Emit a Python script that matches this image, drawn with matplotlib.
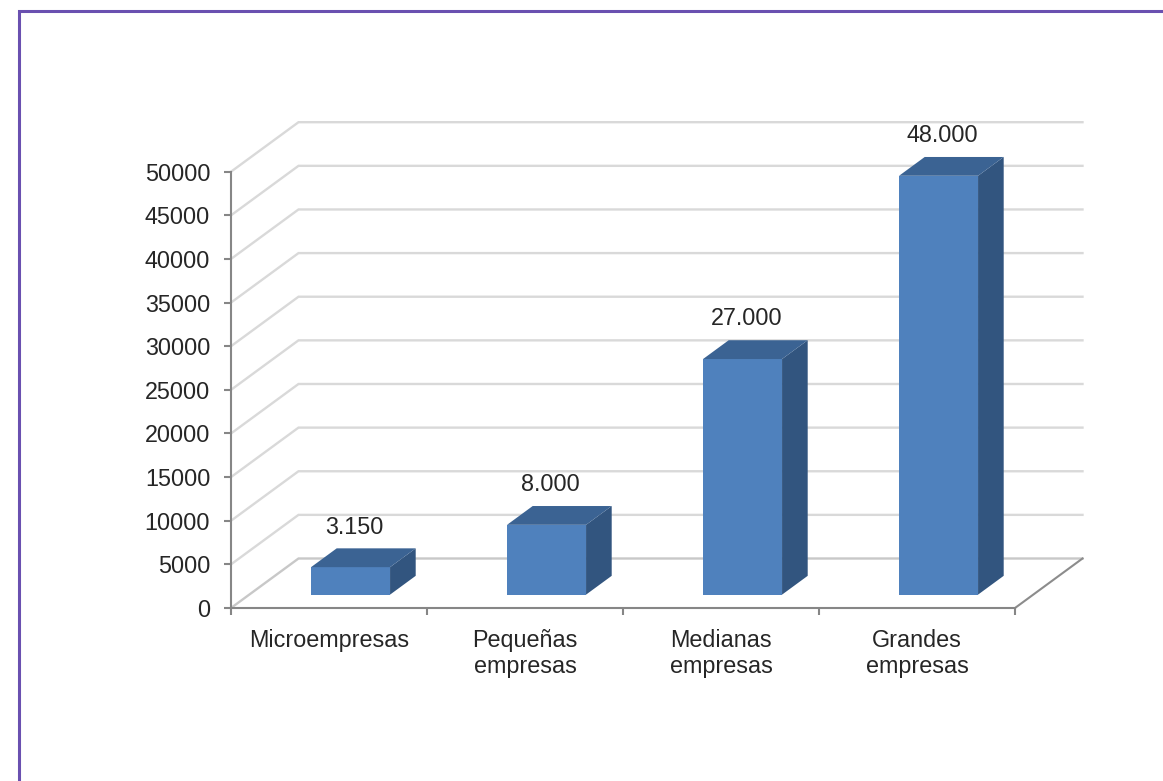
import matplotlib
matplotlib.use('Agg')
import matplotlib.pyplot as plt
from matplotlib.patches import Polygon, Rectangle

plt.rcParams['font.family'] = ['Liberation Sans', 'DejaVu Sans']

categories = ['Microempresas', 'Pequeñas\nempresas', 'Medianas\nempresas', 'Grandes\nempresas']
values = [3150, 8000, 27000, 48000]
value_labels = ['3.150', '8.000', '27.000', '48.000']
y_ticks = list(range(0, 50001, 5000))

W, H = 1163, 781
fig = plt.figure(figsize=(W / 100, H / 100), dpi=100)
ax = fig.add_axes([231 / W, 1 - 608 / H, (1015 - 231) / W, (608 - 171.7) / H])
ax.set_xlim(-0.5, 3.5)
ax.set_ylim(0, 50000)

# 3D depth offsets (in data units)
DX = 67.5 / 196
DY = 49.5 / 436.3 * 50000

grid_c = '#d9d9d9'
axis_c = '#868686'

# back wall / side wall gridlines
for v in y_ticks:
    ax.plot([-0.5, -0.5 + DX, 3.5 + DX], [v, v + DY, v + DY],
            color=grid_c if v > 0 else '#c8c8c8', lw=1.7, clip_on=False, zorder=1,
            solid_joinstyle='miter')
# floor right edge
ax.plot([3.5, 3.5 + DX], [0, DY], color='#8c8c8c', lw=1.5, clip_on=False, zorder=2)

# bars
f = 0.27      # depth fraction of bar front face
d = 0.38      # bar depth fraction
w = 0.403     # bar width (category units)
shift = 0.017
front_c = '#4f81bd'
side_c = '#32557f'
top_c = '#3b6393'
for i, v in enumerate(values):
    x0 = i - w / 2 + f * DX + shift
    y0 = f * DY
    ax.add_patch(Rectangle((x0, y0), w, v, facecolor=front_c, edgecolor='none',
                           clip_on=False, zorder=4))
    ax.add_patch(Polygon([(x0 + w, y0), (x0 + w + d * DX, y0 + d * DY),
                          (x0 + w + d * DX, y0 + v + d * DY), (x0 + w, y0 + v)],
                         closed=True, facecolor=side_c, edgecolor='none',
                         clip_on=False, zorder=4))
    ax.add_patch(Polygon([(x0, y0 + v), (x0 + d * DX, y0 + v + d * DY),
                          (x0 + w + d * DX, y0 + v + d * DY), (x0 + w, y0 + v)],
                         closed=True, facecolor=top_c, edgecolor='none',
                         clip_on=False, zorder=4))
    ax.text(x0 + w / 2 + 0.02, y0 + v + 4600, value_labels[i], ha='center', va='center',
            fontsize=16.8, color='#262626', zorder=5)

# axes styling
for s in ['top', 'right']:
    ax.spines[s].set_visible(False)
for s in ['left', 'bottom']:
    ax.spines[s].set_color(axis_c)
    ax.spines[s].set_linewidth(1.5)
    ax.spines[s].set_zorder(3)

ax.set_yticks(y_ticks)
ax.set_yticklabels([str(t) for t in y_ticks])
ax.tick_params(axis='y', length=5, width=1.5, color=axis_c, pad=10,
               labelsize=16.8, labelcolor='#262626')

ax.set_xticks(range(len(categories)))
ax.set_xticklabels(categories, linespacing=1.2)
ax.set_xticks([-0.5, 0.5, 1.5, 2.5, 3.5], minor=True)
ax.tick_params(axis='x', which='major', length=0, pad=15, labelsize=16.8,
               labelcolor='#262626')
ax.tick_params(axis='x', which='minor', length=5, width=1.5, color=axis_c)
ax.set_facecolor('none')

# outer purple frame
fig.patches.append(Rectangle((19 / W, -0.1), 1.2, 1 - 11 / H + 0.1,
                             transform=fig.transFigure, fill=False,
                             edgecolor='#6a50b0', lw=2.2))

fig.savefig('out.png', dpi=100)
